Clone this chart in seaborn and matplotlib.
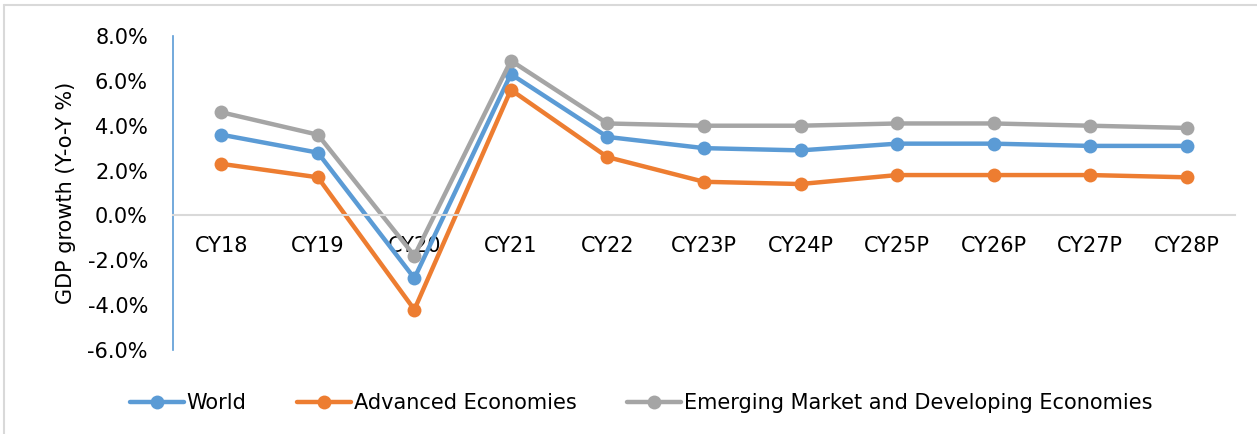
import matplotlib
matplotlib.use("Agg")
import matplotlib.pyplot as plt
import seaborn as sns
import pandas as pd
from matplotlib.ticker import FuncFormatter
from matplotlib.lines import Line2D

years = ["CY18", "CY19", "CY20", "CY21", "CY22", "CY23P", "CY24P", "CY25P", "CY26P", "CY27P", "CY28P"]
world = [3.6, 2.8, -2.8, 6.3, 3.5, 3.0, 2.9, 3.2, 3.2, 3.1, 3.1]
advanced = [2.3, 1.7, -4.2, 5.6, 2.6, 1.5, 1.4, 1.8, 1.8, 1.8, 1.7]
emerging = [4.6, 3.6, -1.8, 6.9, 4.1, 4.0, 4.0, 4.1, 4.1, 4.0, 3.9]
series_names = ["World", "Advanced Economies", "Emerging Market and Developing Economies"]
colors = ["#5B9BD5", "#ED7D31", "#A5A5A5"]

rows = []
for name, vals in zip(series_names, [world, advanced, emerging]):
    for y, v in zip(years, vals):
        rows.append({"Year": y, "Growth": v, "Series": name})
df = pd.DataFrame(rows)

sns.set_style("white")
plt.rcParams["font.family"] = ["DejaVu Sans"]
plt.rcParams["text.color"] = "black"
plt.rcParams["axes.labelcolor"] = "black"
plt.rcParams["xtick.color"] = "black"
plt.rcParams["ytick.color"] = "black"

fig = plt.figure(figsize=(12.57, 4.34), dpi=100)
ax = fig.add_axes([173 / 1257, 1 - 350 / 434, (1235 - 173) / 1257, (350 - 36) / 434])

sns.lineplot(data=df, x="Year", y="Growth", hue="Series", hue_order=series_names,
             palette=colors, marker="o", markersize=10, markeredgewidth=0,
             linewidth=3.2, ax=ax, legend=False, sort=False)

ax.set_xlim(-0.5, len(years) - 0.5)
ax.set_ylim(-6, 8)
ax.set_yticks([-6, -4, -2, 0, 2, 4, 6, 8])
ax.yaxis.set_major_formatter(FuncFormatter(lambda v, p: f"{v:.1f}%"))
ax.set_xlabel("")
ax.set_ylabel("GDP growth (Y-o-Y %)", fontsize=15, labelpad=8)

for s in ["top", "right"]:
    ax.spines[s].set_visible(False)
ax.spines["left"].set_color("#5B9BD5")
ax.spines["left"].set_linewidth(1.2)
ax.spines["bottom"].set_position(("data", 0))
ax.spines["bottom"].set_color("#D9D9D9")
ax.spines["bottom"].set_linewidth(1.5)
ax.tick_params(axis="x", length=0, pad=15, labelsize=15)
ax.tick_params(axis="y", length=0, pad=18, labelsize=15)

handles = [Line2D([0], [0], color=c, lw=3.2, marker="o", markersize=10, markeredgewidth=0) for c in colors]
fig.legend(handles, series_names, loc="center", bbox_to_anchor=(641 / 1257, 1 - 403 / 434),
           ncol=3, frameon=False, fontsize=15, handlelength=2.6, handletextpad=0.15,
           columnspacing=2.4)

# outer chart border
fig.add_artist(Line2D([4 / 1257, 4 / 1257], [0, 1 - 5 / 434], transform=fig.transFigure, color="#D9D9D9", lw=1.5))
fig.add_artist(Line2D([4 / 1257, 1], [1 - 5 / 434, 1 - 5 / 434], transform=fig.transFigure, color="#D9D9D9", lw=1.5))

fig.savefig("out.png", dpi=100)
